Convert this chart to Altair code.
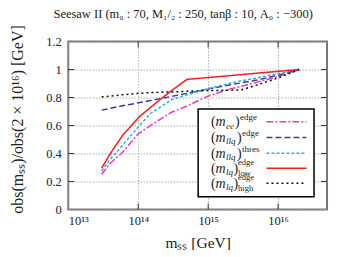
import altair as alt
import pandas as pd

# ---------------- data ----------------
m_ss = [3e13, 4e13, 6e13, 1e14, 1.5e14, 3e14, 5e14, 1e15, 2e15, 3e15, 5e15, 1e16, 2e16]

series_names = ["ee_edge", "llq_edge", "llq_thres", "lq_low", "lq_high"]
ee_edge   = [0.252, 0.33, 0.41, 0.54, 0.60, 0.695, 0.74, 0.81, 0.86, 0.88, 0.91, 0.95, 1.0]
llq_edge  = [0.71, 0.723, 0.741, 0.762, 0.778, 0.808, 0.83, 0.86, 0.89, 0.905, 0.925, 0.96, 1.0]
llq_thres = [0.275, 0.36, 0.46, 0.59, 0.686, 0.785, 0.82, 0.864, 0.90, 0.92, 0.94, 0.97, 1.0]
lq_low    = [0.295, 0.40, 0.53, 0.655, 0.73, 0.85, 0.93, 0.943, 0.956, 0.964, 0.974, 0.987, 1.0]
lq_high   = [0.805, 0.81, 0.82, 0.83, 0.835, 0.84, 0.845, 0.85, 0.852, 0.855, 0.89, 0.94, 1.0]

x_tick_values = [1e13, 1e14, 1e15, 1e16]
x_inner_ticks = [1e14, 1e15, 1e16]
y_tick_values = [0, 0.2, 0.4, 0.6, 0.8, 1.0, 1.2]
y_inner_ticks = [0.2, 0.4, 0.6, 0.8, 1.0]

title_text = "Seesaw II (m₀ : 70, M₁/₂ : 250, tanβ : 10, A₀ : −300)"

# ---------------- styles ----------------
colors = ["#e83cb8", "#3c3c9c", "#28b0f0", "#ff1a1a", "#111111"]
dashes = [[7, 2, 2, 2], [6, 3], [3, 2], [1, 0], [2, 3]]
FONT = "Liberation Serif"
TXT = "#222222"

rows = []
for name, vals in zip(series_names, [ee_edge, llq_edge, llq_thres, lq_low, lq_high]):
    for x, y in zip(m_ss, vals):
        rows.append({"series": name, "m": x, "r": y})
df = pd.DataFrame(rows)

W, H = 259, 168
xscale = alt.Scale(type="log", domain=[1e13, 5e16], nice=False)
yscale = alt.Scale(domain=[0, 1.2], nice=False, zero=False)

x_label_expr = ("datum.value < 5e13 ? '10¹³' : datum.value < 5e14 ? '10¹⁴' : "
                "datum.value < 5e15 ? '10¹⁵' : '10¹⁶'")

x_axis = alt.Axis(
    values=x_tick_values, labelExpr=x_label_expr, title="mₛₛ [GeV]",
    grid=True, ticks=False, domain=False, labelPadding=5,
    labelFontSize=12.5, titleFontSize=15.5, titleY=33, titleBaseline="middle",
    titleFontWeight="normal")
y_axis = alt.Axis(
    values=y_tick_values, labelExpr="format(datum.value, '~g')",
    title="obs(mₛₛ)/obs(2 × 10¹⁶) [GeV]",
    grid=True, ticks=False, domain=False, labelPadding=7,
    labelFontSize=12.5, titleFontSize=16, titleX=-51, titleY=77.5,
    titleAngle=270, titleBaseline="middle", titleAlign="center",
    titleFontWeight="normal")

lines = alt.Chart(df).mark_line(strokeWidth=1.5, clip=True).encode(
    x=alt.X("m:Q", scale=xscale, axis=x_axis),
    y=alt.Y("r:Q", scale=yscale, axis=y_axis),
    color=alt.Color("series:N", scale=alt.Scale(domain=series_names, range=colors), legend=None),
    strokeDash=alt.StrokeDash("series:N", scale=alt.Scale(domain=series_names, range=dashes), legend=None),
)

xt = pd.DataFrame({"m": x_inner_ticks})
yt = pd.DataFrame({"r": y_inner_ticks})
TL = 6
tick_layers = [
    alt.Chart(xt).mark_rule(color="#333", strokeWidth=1).encode(
        x=alt.X("m:Q", scale=xscale, axis=x_axis), y=alt.value(0), y2=alt.value(TL)),
    alt.Chart(xt).mark_rule(color="#333", strokeWidth=1).encode(
        x=alt.X("m:Q", scale=xscale, axis=x_axis), y=alt.value(H), y2=alt.value(H - TL)),
    alt.Chart(yt).mark_rule(color="#333", strokeWidth=1).encode(
        y=alt.Y("r:Q", scale=yscale, axis=y_axis), x=alt.value(0), x2=alt.value(TL)),
    alt.Chart(yt).mark_rule(color="#333", strokeWidth=1).encode(
        y=alt.Y("r:Q", scale=yscale, axis=y_axis), x=alt.value(W), x2=alt.value(W - TL)),
]

dummy = alt.Data(values=[{"a": 1}])

legend_box = alt.Chart(dummy).mark_rect(fill="white", stroke="black", strokeWidth=1.5).encode(
    x=alt.value(130), x2=alt.value(246), y=alt.value(67.5), y2=alt.value(155.2))

row_y = [80.2, 96.0, 111.8, 126.8, 141.8]
sym_layers = []
for i in range(5):
    sym_layers.append(
        alt.Chart(dummy).mark_rule(color=colors[i], strokeDash=dashes[i], strokeWidth=1.5).encode(
            x=alt.value(198.4), x2=alt.value(238.4), y=alt.value(row_y[i])))


def txt(s, x, y, size=14.0, style="normal", align="left"):
    return alt.Chart(dummy).mark_text(
        text=s, font=FONT, fontSize=size, fontStyle=style, align=align,
        baseline="alphabetic", color=TXT).encode(x=alt.value(x), y=alt.value(y))


subs = ["ee", "llq", "llq", "lq", "lq"]
sups = ["edge", "edge", "thres", "edge", "edge"]
lows = [None, None, None, "low", "high"]
close_x = [167.0, 169.0, 169.0, 165.5, 165.5]
text_layers = []
for i in range(5):
    yc = row_y[i]
    text_layers.append(txt("(", 143, yc + 4.5))
    text_layers.append(txt("m", 147.3, yc + 4.5, style="italic"))
    text_layers.append(txt(subs[i], 158, yc + 7, size=9, style="italic"))
    text_layers.append(txt(")", close_x[i], yc + 4.5))
    if lows[i] is None:
        text_layers.append(txt(sups[i], close_x[i] + 5, yc - 1.5, size=9))
    else:
        text_layers.append(txt(sups[i], close_x[i] + 4.5, yc - 3, size=8.5))
        text_layers.append(txt(lows[i], close_x[i] + 4.5, yc + 7.8, size=8.5))

title_layer = txt(title_text, 115, -23.5, size=12.5, align="center")

chart = alt.layer(lines, *tick_layers, legend_box, *sym_layers, *text_layers, title_layer).properties(
    width=W, height=H,
    autosize=alt.AutoSizeParams(type="none"),
    padding={"left": 60.3, "top": 33.5, "right": 15, "bottom": 40},
).configure_view(stroke="#777777", strokeWidth=2).configure_axis(
    labelFont=FONT, titleFont=FONT, labelColor=TXT, titleColor=TXT,
    gridColor="#aaaaaa", gridDash=[1.5, 1.5], gridWidth=1,
)

chart.save("out.html", embed_options={"renderer": "svg", "actions": False})
